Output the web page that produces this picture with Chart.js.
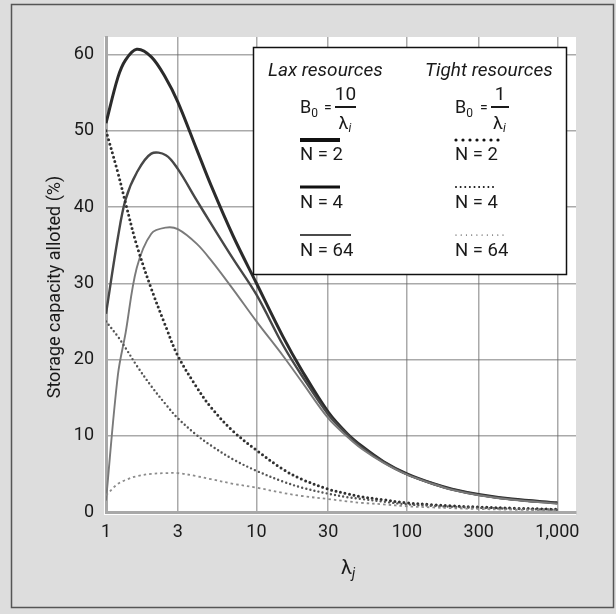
<!DOCTYPE html>
<html>
<head>
<meta charset="utf-8">
<script src="https://cdn.jsdelivr.net/npm/chart.js@4/dist/chart.umd.min.js"></script>
<style>
  html, body { margin: 0; padding: 0; background: #dddddd; }
  #wrap { width: 616px; height: 614px; position: relative; }
</style>
</head>
<body>
<div id="wrap"><canvas id="c" width="616" height="614"></canvas></div>
<script>
// ---- data ----
const lambdaValues = [1, 1.2, 1.35, 1.6, 2, 2.5, 3, 4, 5, 7, 10, 15, 20, 30, 40, 50, 70, 100, 150, 200, 300, 500, 1000];
// Lax resources (B0 = 10/λi)
const laxN2  = [51, 57, 59.3, 60.7, 59.7, 56.9, 53.8, 47.6, 42.8, 36.2, 30, 23, 18.6, 13.1, 10.3, 8.65, 6.6, 5.0, 3.7, 3.0, 2.3, 1.7, 1.2];
const laxN4  = [26, 36, 41, 44.5, 47, 46.8, 45, 40.9, 37.8, 33.2, 28.5, 21.9, 17.9, 12.8, 10.2, 8.5, 6.55, 4.95, 3.7, 2.95, 2.25, 1.65, 1.15];
const laxN64 = [1.5, 18, 23.5, 32, 36.5, 37.3, 37.1, 35.2, 33.0, 29.2, 25.0, 20.5, 17.1, 12.3, 9.9, 8.3, 6.45, 4.9, 3.65, 2.9, 2.2, 1.6, 1.1];
// Tight resources (B0 = 1/λi)
const tightN2  = [50, 44.5, 40.5, 35, 29.3, 24.3, 20.5, 16.4, 13.7, 10.6, 8.1, 5.6, 4.3, 3.0, 2.4, 2.0, 1.6, 1.2, 0.95, 0.8, 0.65, 0.5, 0.35];
const tightN4  = [25, 23, 21.5, 19.2, 16.5, 14.1, 12.3, 10.1, 8.7, 6.9, 5.4, 4.0, 3.2, 2.4, 1.95, 1.7, 1.35, 1.0, 0.8, 0.68, 0.55, 0.42, 0.3];
const tightN64 = [2.2, 3.7, 4.2, 4.7, 5.0, 5.1, 5.1, 4.7, 4.3, 3.7, 3.2, 2.5, 2.1, 1.7, 1.4, 1.2, 1.0, 0.75, 0.6, 0.5, 0.4, 0.3, 0.2];

const xTicks = [1, 3, 10, 30, 100, 300, 1000];
const yTicks = [0, 10, 20, 30, 40, 50, 60];
const seriesLabels = ['N = 2', 'N = 4', 'N = 64'];
const groupTitles = ['Lax resources', 'Tight resources'];
const yTitle = 'Storage capacity alloted (%)';

// ---- styling ----
const FONT = 'Roboto, "Liberation Sans", sans-serif';
const TXT = '#1a1a1a';
const laxColors = ['#2b2b2b', '#474747', '#7a7a7a'];
const laxWidths = [3, 2.4, 1.9];
const tightColors = ['#303030', '#555555', '#8c8c8c'];
const tightWidths = [3, 2.4, 1.8];
const tightDash = [[0, 4.6], [0, 4.2], [2.5, 3]];
const tightCaps = ['round', 'round', 'butt'];

const pts = arr => lambdaValues.map((x, i) => ({ x: x, y: arr[i] }));

function laxDs(label, arr, k) {
  return { label: 'Lax ' + label, data: pts(arr), borderColor: laxColors[k], borderWidth: laxWidths[k],
    pointRadius: 0, tension: 0.35, fill: false };
}
function tightDs(label, arr, k) {
  return { label: 'Tight ' + label, data: pts(arr), borderColor: tightColors[k], borderWidth: tightWidths[k],
    borderDash: tightDash[k], borderCapStyle: tightCaps[k],
    pointRadius: 0, tension: 0.35, fill: false };
}

const frame = {
  id: 'frame',
  beforeDraw(chart) {
    const ctx = chart.ctx, a = chart.chartArea;
    ctx.save();
    ctx.fillStyle = '#dddddd';
    ctx.fillRect(0, 0, chart.width, chart.height);
    ctx.strokeStyle = '#555';
    ctx.lineWidth = 1.5;
    ctx.strokeRect(11.5, 4.5, 602, 603);
    ctx.fillStyle = '#ffffff';
    ctx.fillRect(a.left - 2, a.top, a.right - a.left + 2, a.bottom - a.top + 3);
    ctx.restore();
  },
  afterDraw(chart) {
    const ctx = chart.ctx;
    ctx.save();
    // y axis title
    ctx.fillStyle = TXT;
    ctx.font = '18px ' + FONT;
    ctx.translate(55, 287);
    ctx.rotate(-Math.PI / 2);
    ctx.textAlign = 'center';
    ctx.textBaseline = 'middle';
    ctx.fillText(yTitle, 0, 0);
    ctx.restore();

    // x axis title λj
    ctx.save();
    ctx.fillStyle = TXT;
    ctx.font = '20px ' + FONT;
    ctx.textBaseline = 'alphabetic';
    const lw = ctx.measureText('λ').width;
    ctx.fillText('λ', 341, 574);
    ctx.font = 'italic 14px ' + FONT;
    ctx.fillText('j', 341 + lw, 578);
    ctx.restore();

    // legend box
    ctx.save();
    ctx.fillStyle = '#ffffff';
    ctx.fillRect(253, 47, 314, 227);
    ctx.strokeStyle = '#111';
    ctx.lineWidth = 1.5;
    ctx.strokeRect(253.5, 47.5, 313, 227);
    ctx.fillStyle = TXT;
    ctx.textBaseline = 'alphabetic';
    ctx.font = 'italic 19px ' + FONT;
    ctx.fillText(groupTitles[0], 268, 76);
    ctx.fillText(groupTitles[1], 425, 76);

    function formula(x0, num, barL, barR) {
      ctx.font = '18px ' + FONT;
      ctx.textAlign = 'left';
      ctx.fillText('B', x0, 113);
      const bw = ctx.measureText('B').width;
      ctx.font = '12px ' + FONT;
      ctx.fillText('0', x0 + bw, 117);
      ctx.font = '14px ' + FONT;
      ctx.fillText('=', barL - 11, 112);
      ctx.fillRect(barL, 106, barR - barL, 2);
      const cx = (barL + barR) / 2;
      ctx.font = '19px ' + FONT;
      ctx.textAlign = 'center';
      ctx.fillText(num, cx, 100);
      ctx.font = '18px ' + FONT;
      const lw2 = ctx.measureText('λ').width;
      ctx.textAlign = 'left';
      ctx.fillText('λ', cx - lw2 / 2 - 2, 129);
      ctx.font = 'italic 12px ' + FONT;
      ctx.fillText('i', cx + lw2 / 2 - 2, 132);
    }
    formula(300, '10', 335, 356);
    formula(455, '1', 491, 509);

    const rowLine = [140, 187, 235];
    const rowText = [160, 208, 256];
    const laxLegW = [4, 3, 1.5];
    const laxLegLen = [40, 40, 51];
    const dotR = [1.6, 1.0, 0.6];
    const dotN = [7, 9, 10];
    const dotLen = [42, 37, 47];
    ctx.font = '18.5px ' + FONT;
    ctx.textAlign = 'left';
    for (let k = 0; k < 3; k++) {
      ctx.fillStyle = '#111';
      ctx.fillRect(300, rowLine[k] - laxLegW[k] / 2, laxLegLen[k], laxLegW[k]);
      for (let d = 0; d < dotN[k]; d++) {
        const x = 456 + d * dotLen[k] / (dotN[k] - 1);
        ctx.beginPath();
        ctx.arc(x, rowLine[k], dotR[k], 0, Math.PI * 2);
        ctx.fill();
      }
      ctx.fillStyle = TXT;
      ctx.fillText(seriesLabels[k], 300, rowText[k]);
      ctx.fillText(seriesLabels[k], 455, rowText[k]);
    }
    ctx.restore();
  }
};

new Chart(document.getElementById('c'), {
  type: 'line',
  data: {
    datasets: [
      tightDs(seriesLabels[2], tightN64, 2),
      tightDs(seriesLabels[1], tightN4, 1),
      tightDs(seriesLabels[0], tightN2, 0),
      laxDs(seriesLabels[2], laxN64, 2),
      laxDs(seriesLabels[1], laxN4, 1),
      laxDs(seriesLabels[0], laxN2, 0)
    ]
  },
  options: {
    responsive: false,
    animation: false,
    events: [],
    layout: { padding: { left: 0, top: 37, right: 40, bottom: 0 } },
    plugins: { legend: { display: false }, tooltip: { enabled: false }, title: { display: false } },
    scales: {
      x: {
        type: 'logarithmic',
        min: 1, max: 1330,
        afterBuildTicks: s => { s.ticks = xTicks.map(v => ({ value: v })); },
        afterFit: s => { s.height = 102; },
        ticks: {
          autoSkip: false, maxRotation: 0, padding: 10, color: TXT,
          font: { family: FONT, size: 18 },
          callback: v => Number(v).toLocaleString('en-US')
        },
        grid: { color: 'rgba(100,100,100,0.55)', lineWidth: 1.5, drawTicks: false },
        border: { display: true, color: '#a8a8a8', width: 3 }
      },
      y: {
        min: 0, max: 62.3,
        afterBuildTicks: s => { s.ticks = yTicks.map(v => ({ value: v })); },
        afterFit: s => { s.width = 106; },
        ticks: { padding: 12, color: TXT, font: { family: FONT, size: 18 } },
        grid: { color: 'rgba(100,100,100,0.55)', lineWidth: 1.5, drawTicks: false },
        border: { display: true, color: '#a8a8a8', width: 3 }
      }
    }
  },
  plugins: [frame]
});
</script>
</body>
</html>
